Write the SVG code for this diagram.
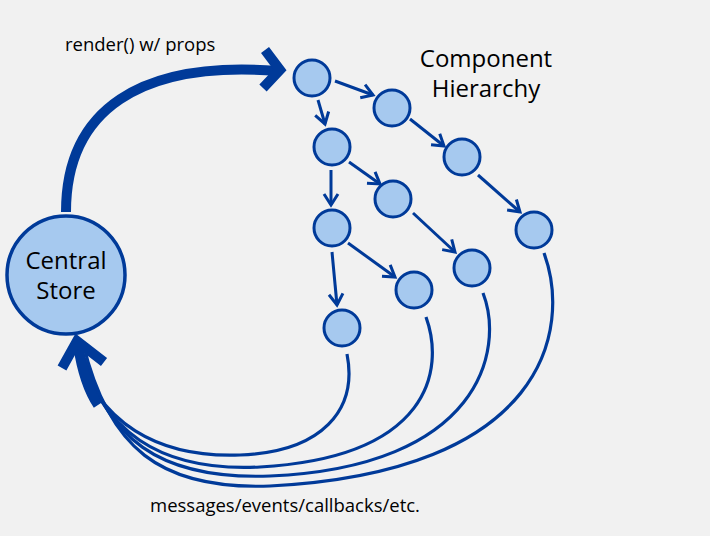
<svg xmlns="http://www.w3.org/2000/svg" width="710" height="536" viewBox="0 0 710 536">
<defs>
<style>
.bg{fill:#f1f1f1}
.node circle{fill:#a6c9ef;stroke:#003a99;stroke-width:3}
.store circle{fill:#a6c9ef;stroke:#003a99;stroke-width:3.5}
.edge{fill:none;stroke:#003a99;stroke-width:3}
.big{fill:none;stroke:#003a99;stroke-width:10}
.ret{fill:none;stroke:#003a99;stroke-width:3.2}
text{font-family:"Open Sans","Noto Sans",sans-serif;fill:#000}
.lbl{font-size:18.5px}
.ttl{font-size:24px;text-anchor:middle}
</style>
<marker id="ah" markerUnits="userSpaceOnUse" markerWidth="18" markerHeight="18" viewBox="0 0 18 18" refX="14" refY="9" orient="auto">
<path d="M3,2 L14,9 L3,16" fill="none" stroke="#003a99" stroke-width="3"/>
</marker>
</defs>
<rect class="bg" x="0" y="0" width="710" height="536"/>

<g id="connectors">
<path class="big" d="M66 212 C66 110 140 60 278 71"/>
<polyline class="big" points="265,50 280,70 263,88" stroke-linejoin="miter"/>
<line class="edge" x1="335" y1="81" x2="373" y2="95" marker-end="url(#ah)"/>
<line class="edge" x1="318" y1="100" x2="325" y2="124" marker-end="url(#ah)"/>
<line class="edge" x1="410" y1="119" x2="444" y2="146" marker-end="url(#ah)"/>
<line class="edge" x1="349" y1="162" x2="380" y2="184" marker-end="url(#ah)"/>
<line class="edge" x1="331" y1="170" x2="331" y2="205" marker-end="url(#ah)"/>
<line class="edge" x1="478" y1="175" x2="520" y2="212" marker-end="url(#ah)"/>
<line class="edge" x1="413" y1="213" x2="455" y2="252" marker-end="url(#ah)"/>
<line class="edge" x1="348" y1="243" x2="395" y2="277" marker-end="url(#ah)"/>
<line class="edge" x1="332" y1="252" x2="337" y2="305" marker-end="url(#ah)"/>
<path class="ret" d="M347 354 C358 410 322 452 240 455 C160 458 96 425 74 343"/>
<path class="ret" d="M426 317 C445 370 430 457 260 467 C160 472 100 432 77 343"/>
<path class="ret" d="M483 293 C505 350 480 467 270 476 C160 480 104 440 80 343"/>
<path class="ret" d="M544 253 C572 330 545 472 270 486 C160 490 108 448 83 343"/>
<path class="big" d="M78 345 C82 372 88 390 98 405"/>
<polyline class="big" points="62,368 77,341 104,362" stroke-linejoin="miter"/>
</g>

<g id="store" class="store">
<circle cx="66" cy="275" r="59"/>
<text class="ttl" x="66" y="269">Central</text>
<text class="ttl" x="66" y="299">Store</text>
</g>
<g id="n1" class="node"><circle cx="312" cy="78" r="18"/></g>
<g id="n2" class="node"><circle cx="392" cy="108" r="18"/></g>
<g id="n3" class="node"><circle cx="332" cy="147" r="18"/></g>
<g id="n4" class="node"><circle cx="462" cy="157" r="18"/></g>
<g id="n5" class="node"><circle cx="393" cy="199" r="18"/></g>
<g id="n6" class="node"><circle cx="332" cy="228" r="18"/></g>
<g id="n7" class="node"><circle cx="534" cy="230" r="18"/></g>
<g id="n8" class="node"><circle cx="472" cy="268" r="18"/></g>
<g id="n9" class="node"><circle cx="414" cy="290" r="18"/></g>
<g id="n10" class="node"><circle cx="342" cy="328" r="18"/></g>

<g id="labels">
<text class="ttl" x="486" y="67">Component</text>
<text class="ttl" x="486" y="97">Hierarchy</text>
<text class="lbl" x="65" y="51">render() w/ props</text>
<text class="lbl" x="150" y="512">messages/events/callbacks/etc.</text>
</g>
</svg>
